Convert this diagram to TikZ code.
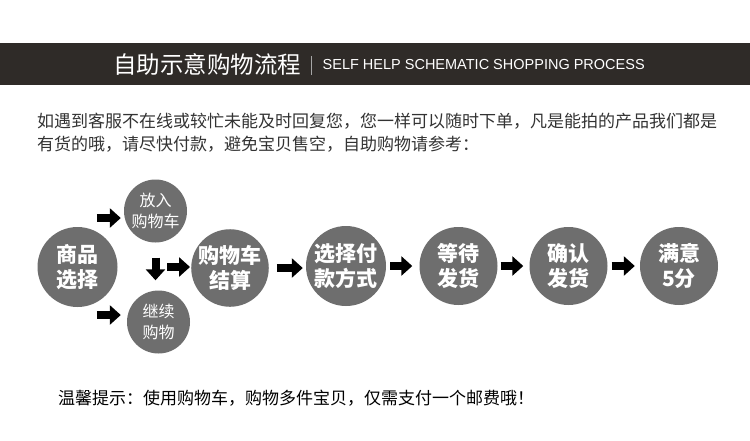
\documentclass[tikz,border=0pt]{standalone}
\usepackage{fontspec}
\newfontfamily\cjk{Noto Sans CJK SC}
\newfontfamily\entitle{Liberation Sans}
\usetikzlibrary{arrows.meta}
\definecolor{bandcol}{HTML}{2F2B28}
\definecolor{stepgray}{HTML}{6E6E6E}
\definecolor{textgray}{HTML}{333333}
\tikzset{
  bigstep/.style={circle,fill=stepgray,minimum size=80pt,inner sep=0pt,align=center,text=white,
    font=\cjk\bfseries\fontsize{21}{25}\selectfont},
  smallstep/.style={bigstep,minimum size=63pt,font=\cjk\fontsize{16}{21}\selectfont},
  blk/.style={line width=8pt,-{Triangle[length=11pt,width=19pt]}},
  para/.style={anchor=west,inner sep=0pt,text=textgray,font=\cjk\fontsize{17}{21}\selectfont}
}
\begin{document}
\begin{tikzpicture}[x=1pt,y=-1pt]
\useasboundingbox[fill=white] (0,0) rectangle (750,440);
\fill[bandcol] (0,43) rectangle (750,85);
\node[anchor=west,inner sep=0pt,text=white,font=\cjk\fontsize{23.5}{26}\selectfont] (title) at (113,64) {自助示意购物流程};
\draw[gray!70,line width=0.8pt] (311.5,56) -- (311.5,75);
\node[anchor=west,inner sep=0pt,text=white,font=\entitle\fontsize{14.5}{16}\selectfont] (subtitle) at (322.5,64.5) {SELF HELP SCHEMATIC SHOPPING PROCESS};
\node[para] (line1) at (37,121) {如遇到客服不在线或较忙未能及时回复您，您一样可以随时下单，凡是能拍的产品我们都是};
\node[para] (line2) at (37,144) {有货的哦，请尽快付款，避免宝贝售空，自助购物请参考：};
\node[bigstep] (pick) at (77.5,267) {商品\\选择};
\node[smallstep] (cart) at (155.5,211) {放入\\购物车};
\node[smallstep] (more) at (158.5,322) {继续\\购物};
\node[bigstep,minimum size=77pt] (settle) at (230,268) {购物车\\结算};
\node[bigstep] (method) at (346,266) {选择付\\款方式};
\node[bigstep,minimum size=78pt] (wait) at (458.5,266) {等待\\发货};
\node[bigstep,minimum size=78pt] (confirm) at (568.5,266) {确认\\发货};
\node[bigstep,minimum size=78pt] (done) at (679,266) {满意\\5分};
\draw[blk] ([xshift=-27pt,yshift=-7pt]cart.west) -- ([xshift=-3pt,yshift=-7pt]cart.west);
\draw[blk] ([xshift=-30pt,yshift=7pt]more.west) -- ([xshift=-6pt,yshift=7pt]more.west);
\draw[blk,shorten <=15pt,shorten >=10pt] (cart.south) -- (cart.south |- more.north);
\draw[blk] ([xshift=-24pt,yshift=1pt]settle.west) -- ([xshift=-1pt,yshift=1pt]settle.west);
\draw[blk,shorten <=8pt,shorten >=3pt] (settle) -- (settle -| method.west);
\draw[blk,shorten <=4pt,shorten >=7pt] (method.east) -- (wait.west);
\draw[blk,shorten <=3pt,shorten >=6pt] (wait.east) -- (confirm.west);
\draw[blk,shorten <=4pt,shorten >=5pt] (confirm.east) -- (done.west);
\node[anchor=west,inner sep=0pt,text=black,font=\cjk\fontsize{17}{21}\selectfont] (tip) at (58,398) {温馨提示：使用购物车，购物多件宝贝，仅需支付一个邮费哦！};
\end{tikzpicture}
\end{document}
